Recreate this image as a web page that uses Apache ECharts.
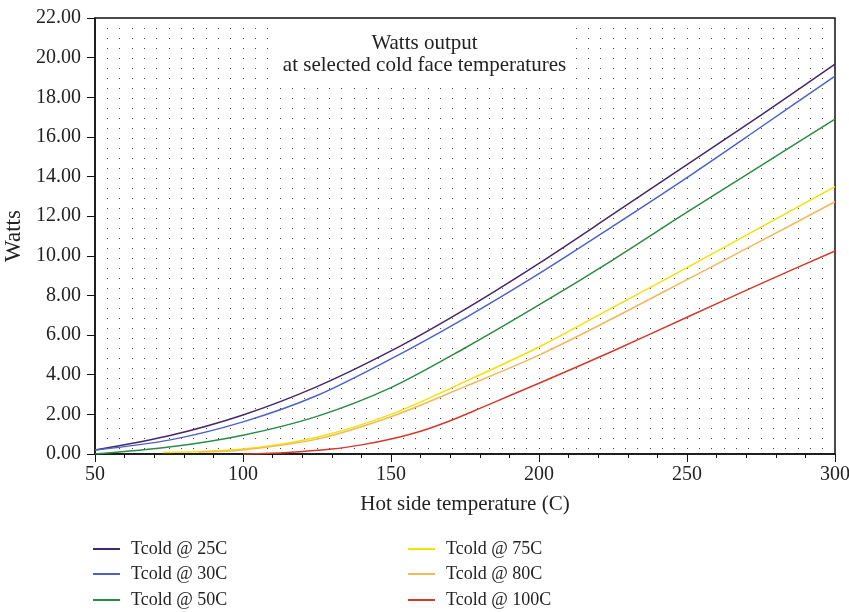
<!DOCTYPE html>
<html>
<head>
<meta charset="utf-8">
<script src="https://cdn.jsdelivr.net/npm/echarts@6/dist/echarts.min.js"></script>
<style>html,body{margin:0;padding:0;background:#fff}#c{width:849px;height:612px}</style>
</head>
<body>
<div id="c"></div>
<script>
const FONT = '"Liberation Serif", "DejaVu Serif", serif';
const titleText = 'Watts output\nat selected cold face temperatures';
const xName = 'Hot side temperature (C)';
const yName = 'Watts';
const seriesNames = ['Tcold @ 25C', 'Tcold @ 30C', 'Tcold @ 50C', 'Tcold @ 75C', 'Tcold @ 80C', 'Tcold @ 100C'];
const seriesColors = ['#45276b', '#4d62c8', '#2b8b45', '#f2e205', '#f0b95c', '#d43a2a'];

const temps = [50, 75, 100, 125, 150, 175, 200, 225, 250, 275, 300];
const w25 = [0.2, 0.92, 1.97, 3.4, 5.2, 7.3, 9.62, 12.1, 14.6, 17.1, 19.67];
const w30 = [0.2, 0.7, 1.62, 2.95, 4.8, 6.86, 9.1, 11.5, 13.95, 16.5, 19.07];
const w50 = [0.0, 0.35, 0.95, 1.9, 3.35, 5.35, 7.52, 9.8, 12.2, 14.55, 16.9];
const temps75 = [73, 100, 125, 150, 175, 200, 225, 250, 275, 300];
const w75 = [0.07, 0.25, 0.85, 2.0, 3.65, 5.4, 7.4, 9.4, 11.45, 13.49];
const temps80 = [85, 100, 125, 150, 175, 200, 225, 250, 275, 300];
const w80 = [0.1, 0.2, 0.75, 1.88, 3.4, 4.99, 6.85, 8.8, 10.75, 12.73];
const temps100 = [100, 115, 130, 140, 150, 160, 170, 180, 190, 200, 225, 250, 275, 300];
const w100 = [0, 0.08, 0.25, 0.46, 0.76, 1.15, 1.68, 2.3, 2.94, 3.57, 5.2, 6.9, 8.6, 10.24];

const xs = [temps, temps, temps, temps75, temps80, temps100];
const ys = [w25, w30, w50, w75, w80, w100];

const chart = echarts.init(document.getElementById('c'));
const series = seriesNames.map((n, i) => ({
  name: n,
  type: 'line',
  xAxisIndex: 0,
  yAxisIndex: 0,
  data: xs[i].map((x, j) => [x, ys[i][j]]),
  smooth: 0.3,
  symbol: 'none',
  lineStyle: { width: 1.5, color: seriesColors[i] },
  itemStyle: { color: seriesColors[i] },
  z: 5
}));

const legendLeft = [88, 88, 88, 403, 403, 403];
const legendTop = [535, 560, 586, 535, 560, 586];
const legends = seriesNames.map((n, i) => ({
  data: [n],
  left: legendLeft[i],
  top: legendTop[i],
  itemWidth: 27,
  itemHeight: 2,
  icon: 'rect',
  textStyle: { fontFamily: FONT, fontSize: 18, color: '#222', padding: [0, 0, 0, 6] }
}));

chart.setOption({
  backgroundColor: '#fff',
  animation: false,
  title: {
    text: titleText,
    left: 'center',
    top: 28,
    padding: [4, 6],
    backgroundColor: '#fff',
    textStyle: { fontFamily: FONT, fontSize: 21, fontWeight: 'normal', color: '#222', lineHeight: 22, align: 'center' },
    z: 10
  },
  legend: legends,
  grid: { left: 95, right: 14, top: 18, bottom: 158, show: true, borderColor: '#111', borderWidth: 1.5, backgroundColor: 'transparent', outerBoundsMode: 'none', containLabel: false },
  xAxis: [{
    type: 'value', min: 50, max: 300, interval: 50,
    name: xName, nameLocation: 'middle', nameGap: 40,
    nameTextStyle: { fontFamily: FONT, fontSize: 21, color: '#222' },
    axisLine: { lineStyle: { color: '#111', width: 1.5 } },
    axisTick: { show: true, length: 8, lineStyle: { color: '#111' } },
    minorTick: { show: true, splitNumber: 5, length: 4, lineStyle: { color: '#111' } },
    axisLabel: { fontFamily: FONT, fontSize: 20, color: '#222', margin: 11 },
    splitLine: { show: false }
  }, {
    type: 'value', min: 50, max: 300, interval: 50, position: 'bottom',
    axisLine: { show: false }, axisTick: { show: false }, axisLabel: { show: false },
    minorTick: { show: false, splitNumber: 12 },
    splitLine: { show: true, lineStyle: { color: '#444', width: 1, type: [1, 9] } },
    minorSplitLine: { show: true, lineStyle: { color: '#444', width: 1, type: [1, 9] } }
  }],
  yAxis: {
    type: 'value', min: 0, max: 22, interval: 2,
    name: yName, nameLocation: 'middle', nameGap: 64, nameRotate: 90,
    nameTextStyle: { fontFamily: FONT, fontSize: 23, color: '#222' },
    axisLine: { show: true, lineStyle: { color: '#111', width: 1.5 } },
    axisTick: { show: true, length: 8, lineStyle: { color: '#111' } },
    axisLabel: { fontFamily: FONT, fontSize: 20, color: '#222', margin: 14, formatter: v => v.toFixed(2) },
    splitLine: { show: false }
  },
  series: series
});
</script>
</body>
</html>
